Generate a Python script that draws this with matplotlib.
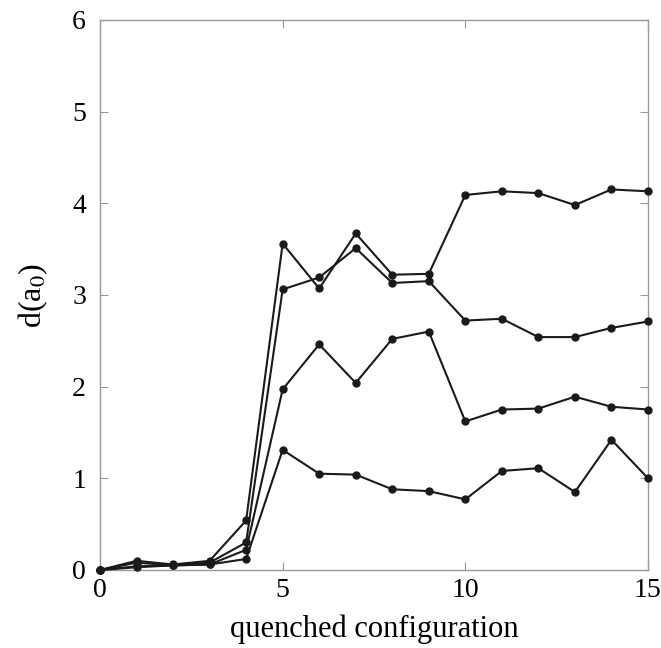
import matplotlib
matplotlib.use("Agg")
import matplotlib.pyplot as plt

# quenched configuration index
configs = list(range(16))

# d(a0) for the four runs
run_a = [0, 0.10, 0.06, 0.10, 0.54, 3.56, 3.07, 3.67, 3.22, 3.23, 4.09, 4.13, 4.11, 3.98, 4.15, 4.13]
run_b = [0, 0.08, 0.05, 0.08, 0.30, 3.06, 3.19, 3.51, 3.13, 3.15, 2.72, 2.74, 2.54, 2.54, 2.64, 2.71]
run_c = [0, 0.04, 0.05, 0.06, 0.22, 1.97, 2.46, 2.04, 2.52, 2.60, 1.62, 1.75, 1.76, 1.89, 1.78, 1.75]
run_d = [0, 0.03, 0.05, 0.06, 0.12, 1.31, 1.05, 1.04, 0.88, 0.86, 0.77, 1.08, 1.11, 0.85, 1.42, 1.00]

x_ticks = [0, 5, 10, 15]
y_ticks = [0, 1, 2, 3, 4, 5, 6]

plt.rcParams["font.family"] = ["Liberation Serif", "DejaVu Serif"]
plt.rcParams["mathtext.fontset"] = "stix"

fig = plt.figure(figsize=(6.61, 6.48), dpi=100)
ax = fig.add_axes([0.1513, 0.1204, 0.829, 0.849])

for run in (run_a, run_b, run_c, run_d):
    ax.plot(configs, run, color="#1a1a1a", lw=1.5, marker="o", ms=5, clip_on=False, zorder=3)

ax.set_xlim(0, 15)
ax.set_ylim(0, 6)
ax.set_xticks(x_ticks)
ax.set_yticks(y_ticks)
ax.tick_params(direction="in", length=6, width=0.8, color="#999999",
               top=True, right=True, labelsize=20, pad=6)
ax.tick_params(axis="y", pad=10)
for s in ax.spines.values():
    s.set_color("#999999")
    s.set_linewidth(1.0)

ax.set_xlabel("quenched configuration", fontsize=22, labelpad=8)
ax.set_ylabel(r"d(a$_0$)", fontsize=23, labelpad=16)

fig.savefig("out.png", dpi=100)
